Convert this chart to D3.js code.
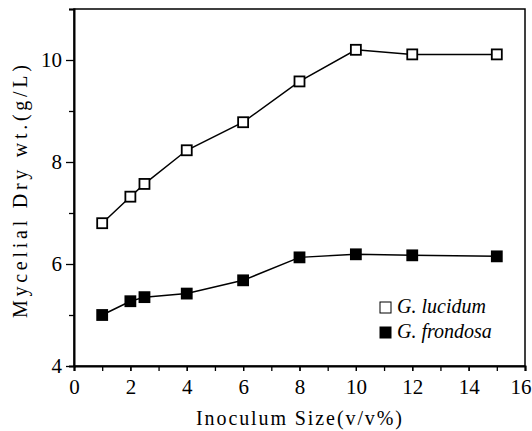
<!DOCTYPE html>
<html>
<head>
<meta charset="utf-8">
<script src="https://cdn.jsdelivr.net/npm/d3@7"></script>
</head>
<body style="margin:0; font-family: serif">
<script>
const width = 532;
const height = 431;

// inoculum size (v/v%)
const sizes = [1, 2, 2.5, 4, 6, 8, 10, 12, 15];
const lucidum = [6.8, 7.32, 7.57, 8.23, 8.78, 9.58, 10.2, 10.11, 10.11];
const frondosa = [5.0, 5.27, 5.35, 5.42, 5.68, 6.13, 6.19, 6.17, 6.15];
const xTicks = [0, 2, 4, 6, 8, 10, 12, 14, 16];
const yTicks = [4, 6, 8, 10];

const margin = { top: 9, right: 7, bottom: 65, left: 74 };

const svg = d3
	.select("body")
	.append("svg")
	.attr("width", width)
	.attr("height", height)
	.style("font-family", "serif");

const x = d3.scaleLinear().domain([0, 16]).range([margin.left, width - margin.right]);
const y = d3.scaleLinear().domain([4, 11]).range([height - margin.bottom, margin.top]);

// frame
svg
	.append("rect")
	.attr("x", margin.left)
	.attr("y", margin.top)
	.attr("width", width - margin.left - margin.right)
	.attr("height", height - margin.top - margin.bottom)
	.attr("fill", "none")
	.attr("stroke", "#000")
	.attr("stroke-width", 1.5);

// x axis, minor ticks every 1
const xAxis = svg.append("g").attr("transform", `translate(0,${y(4)})`);
xAxis
	.call(d3.axisBottom(x).tickValues(d3.range(0, 17)).tickSize(5).tickFormat(""))
	.call(g => g.select(".domain").attr("stroke-width", 2));
xAxis
	.append("g")
	.call(d3.axisBottom(x).tickValues(xTicks).tickSize(5).tickPadding(8).tickFormat(d3.format("d")))
	.call(g => g.select(".domain").remove())
	.attr("font-family", null)
	.selectAll("text")
	.attr("font-size", 21)
	.filter(d => d === 16)
	.attr("text-anchor", "end")
	.attr("x", 6);

// y axis
const yAxis = svg.append("g").attr("transform", `translate(${margin.left},0)`);
yAxis
	.call(d3.axisLeft(y).tickValues([5, 7, 9, 11]).tickSize(5).tickFormat(""))
	.call(g => g.select(".domain").attr("stroke-width", 2));
yAxis
	.append("g")
	.call(d3.axisLeft(y).tickValues(yTicks).tickSize(8).tickPadding(4).tickFormat(d3.format("d")))
	.call(g => g.select(".domain").remove())
	.attr("font-family", null)
	.selectAll("text")
	.attr("font-size", 21);

svg.selectAll(".tick line").attr("stroke-width", 1.3);

// axis titles
svg
	.append("text")
	.attr("x", 196)
	.attr("y", 425)
	.attr("font-size", 20)
	.attr("textLength", 206)
	.attr("lengthAdjust", "spacing")
	.text("Inoculum  Size(v/v%)");

svg
	.append("text")
	.attr("transform", "translate(27,318) rotate(-90)")
	.attr("font-size", 20)
	.attr("textLength", 253)
	.attr("lengthAdjust", "spacing")
	.text("Mycelial  Dry  wt.(g/L)");

// series
const series = [
	{ name: "G.  lucidum", values: lucidum, fill: "#fff" },
	{ name: "G.  frondosa", values: frondosa, fill: "#000" },
];

const line = d3
	.line()
	.x((d, i) => x(sizes[i]))
	.y(d => y(d));

const ms = 10;

series.forEach(s => {
	svg
		.append("path")
		.attr("d", line(s.values))
		.attr("fill", "none")
		.attr("stroke", "#000")
		.attr("stroke-width", 1.5);

	svg
		.append("g")
		.selectAll("rect")
		.data(s.values)
		.join("rect")
		.attr("x", (d, i) => x(sizes[i]) - ms / 2)
		.attr("y", d => y(d) - ms / 2)
		.attr("width", ms)
		.attr("height", ms)
		.attr("fill", s.fill)
		.attr("stroke", "#000")
		.attr("stroke-width", 1.8);
});

// legend
const legend = svg.append("g").attr("transform", "translate(385,307)");
series.forEach((s, i) => {
	const row = legend.append("g").attr("transform", `translate(0,${i * 25})`);
	row
		.append("rect")
		.attr("x", -5)
		.attr("y", -5)
		.attr("width", 11)
		.attr("height", 11)
		.attr("fill", s.fill)
		.attr("stroke", "#000")
		.attr("stroke-width", 1);
	row
		.append("text")
		.attr("x", 12)
		.attr("y", 6)
		.attr("font-size", 20)
		.attr("font-style", "italic")
		.text(s.name);
});

// serif on every text node, then force layout
svg
	.selectAll("text")
	.attr("font-family", "serif")
	.style("font-family", "serif")
	.each(function () {
		this.getComputedTextLength();
	});
</script>
</body>
</html>
